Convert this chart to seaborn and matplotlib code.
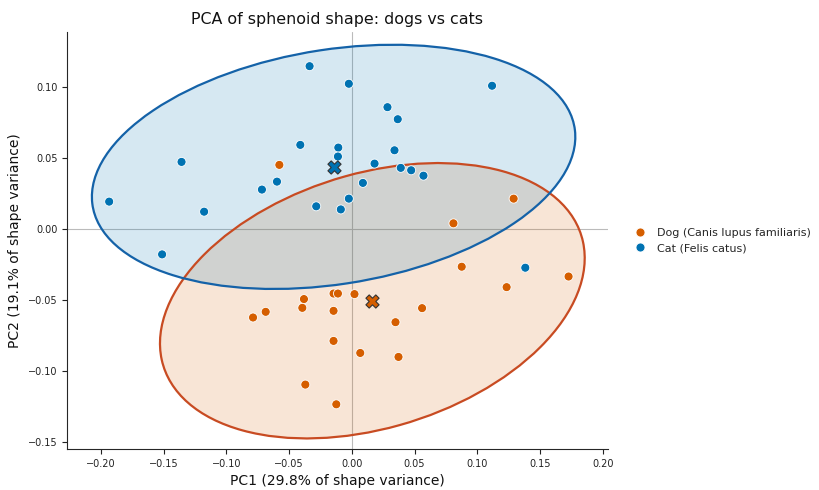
import numpy as np
import pandas as pd
import matplotlib
matplotlib.use('Agg')
import matplotlib.pyplot as plt
from matplotlib.patches import Ellipse
import seaborn as sns

# PC scores
dog_pc1 = [-0.0578, 0.1290, 0.0810, -0.0382, -0.0395, -0.0687, -0.0788, -0.0146,
           -0.0146, -0.0111, -0.0146, -0.0371, -0.0124, 0.0021, 0.0560, 0.0348,
           0.0067, 0.0372, 0.0876, 0.1234, 0.1728]
dog_pc2 = [0.0452, 0.0214, 0.0040, -0.0494, -0.0556, -0.0584, -0.0624, -0.0577,
           -0.0455, -0.0455, -0.0789, -0.1097, -0.1236, -0.0459, -0.0558, -0.0657,
           -0.0874, -0.0902, -0.0266, -0.0410, -0.0335]
cat_pc1 = [-0.0337, -0.0411, -0.1358, -0.1935, -0.1178, -0.0717, -0.0597, -0.0284,
           -0.0024, 0.1118, 0.0284, 0.0366, -0.0108, -0.0111, 0.0340, 0.0181,
           0.0390, 0.0473, 0.0571, 0.0088, -0.0024, -0.0088, -0.1513, 0.1383]
cat_pc2 = [0.1148, 0.0593, 0.0473, 0.0193, 0.0122, 0.0278, 0.0334, 0.0160,
           0.1024, 0.1010, 0.0859, 0.0774, 0.0574, 0.0511, 0.0555, 0.0461,
           0.0431, 0.0414, 0.0376, 0.0325, 0.0214, 0.0138, -0.0179, -0.0273]
groups = ['Dog (Canis lupus familiaris)', 'Cat (Felis catus)']
colors = {'Dog (Canis lupus familiaris)': '#D55E00', 'Cat (Felis catus)': '#0072B2'}
edge_colors = {'Dog (Canis lupus familiaris)': '#C84B22', 'Cat (Felis catus)': '#1462A8'}

df = pd.DataFrame({
    'PC1': dog_pc1 + cat_pc1,
    'PC2': dog_pc2 + cat_pc2,
    'group': [groups[0]] * len(dog_pc1) + [groups[1]] * len(cat_pc1),
})

sns.set_style('ticks')
fig, ax = plt.subplots(figsize=(8.19, 4.9), dpi=100)
fig.subplots_adjust(left=0.082, right=0.742, top=0.935, bottom=0.084)

ax.axhline(0, color='#bbbbbb', lw=0.8, zorder=0)
ax.axvline(0, color='#bbbbbb', lw=0.8, zorder=0)

# 95% confidence ellipses from each group's covariance
for g in groups:
    sub = df[df['group'] == g]
    cov = np.cov(sub['PC1'], sub['PC2'])
    vals, vecs = np.linalg.eigh(cov)
    order = vals.argsort()[::-1]
    vals, vecs = vals[order], vecs[:, order]
    angle = np.degrees(np.arctan2(vecs[1, 0], vecs[0, 0]))
    k = np.sqrt(5.991)
    w, h = 2 * k * np.sqrt(vals)
    center = (sub['PC1'].mean(), sub['PC2'].mean())
    ax.add_patch(Ellipse(center, w, h, angle=angle,
                         facecolor=colors[g], alpha=0.16, edgecolor='none', zorder=1))
    ax.add_patch(Ellipse(center, w, h, angle=angle,
                         facecolor='none', edgecolor=edge_colors[g], lw=1.6, zorder=2))

sns.scatterplot(data=df, x='PC1', y='PC2', hue='group', hue_order=groups,
                palette=colors, s=42, edgecolor='white', linewidth=0.6, ax=ax, zorder=3)

cent = df.groupby('group')[['PC1', 'PC2']].mean()
for g in groups:
    ax.scatter(cent.loc[g, 'PC1'], cent.loc[g, 'PC2'], marker='X', s=90,
               color=colors[g], edgecolor='#333333', linewidth=0.8, zorder=4)

ax.set_xlim(-0.227, 0.204)
ax.set_ylim(-0.155, 0.139)
ax.set_xticks(np.arange(-0.20, 0.201, 0.05))
ax.set_yticks(np.arange(-0.15, 0.101, 0.05))
ax.tick_params(labelsize=7, colors='#222222')
ax.set_xlabel('PC1 (29.8% of shape variance)', fontsize=10, color='#111111')
ax.set_ylabel('PC2 (19.1% of shape variance)', fontsize=10, color='#111111')
ax.set_title('PCA of sphenoid shape: dogs vs cats', fontsize=11.4, color='#111111')
sns.despine(ax=ax)
sns.move_legend(ax, 'center left', bbox_to_anchor=(1.02, 0.5), frameon=False,
                title=None, fontsize=8, handletextpad=0.6)

plt.savefig('out.png', dpi=100)
